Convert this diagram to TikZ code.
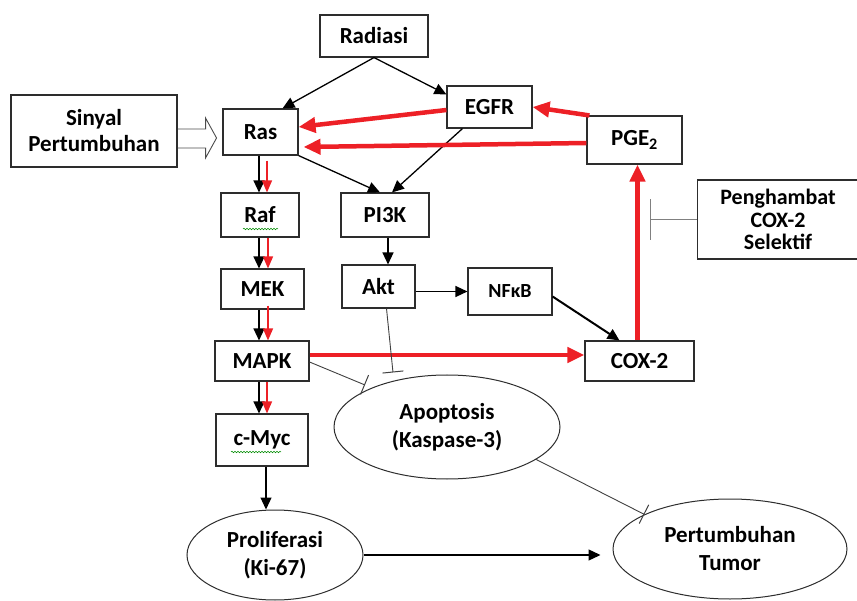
\documentclass[tikz,border=0pt]{standalone}
\usepackage{fontspec}
\setmainfont{Carlito}
\usetikzlibrary{arrows.meta,shapes.geometric,decorations.pathmorphing}
\definecolor{myred}{RGB}{237,32,38}
\definecolor{edge}{RGB}{45,45,45}
\begin{document}
\begin{tikzpicture}[x=1pt,y=-1pt,
  box/.style={draw=edge,line width=1.1pt,fill=white,inner sep=0pt,align=center,
    font=\bfseries\fontsize{23}{26}\selectfont},
  ell/.style={ellipse,draw=edge,line width=1pt,inner sep=0pt,align=center,
    font=\bfseries\fontsize{23}{28}\selectfont},
  blk/.style={-{Triangle[length=12pt,width=11pt]},line width=1.3pt,black},
  rthin/.style={-{Triangle[length=12pt,width=10pt]},line width=1.3pt,myred},
  rthick/.style={-{Triangle[length=17pt,width=15pt]},line width=4.5pt,myred},
  inh/.style={-{Bar[width=21pt,line width=1pt]},line width=0.9pt,black!75},
  squig/.style={draw=green!55!black,line width=0.5pt,
    decorate,decoration={snake,amplitude=0.8pt,segment length=3pt}}
]
\useasboundingbox (0,0) rectangle (857,601);

% nodes
\node[box,minimum width=108pt,minimum height=42pt] (rad) at (374,36) {Radiasi};
\node[box,minimum width=166pt,minimum height=72pt] (sin) at (94,131) {Sinyal\\Pertumbuhan};
\node[box,minimum width=75pt,minimum height=46pt] (ras) at (260.5,132) {Ras};
\node[box,minimum width=85pt,minimum height=42pt] (egfr) at (489.5,107) {EGFR};
\node[box,minimum width=95pt,minimum height=48pt] (pge) at (634.5,140) {PGE\textsubscript{2}};
\node[box,minimum width=78pt,minimum height=44pt] (raf) at (260,215) {Raf};
\node[box,minimum width=88pt,minimum height=44pt] (pik) at (385,215) {PI3K};
\node[box,minimum width=83pt,minimum height=40pt] (mek) at (262.5,289) {MEK};
\node[box,minimum width=73pt,minimum height=43pt] (akt) at (378.5,286.5) {Akt};
\node[box,minimum width=84pt,minimum height=47pt,font=\bfseries\fontsize{20}{23}\selectfont] (nfkb) at (510,291.5) {NFκB};
\node[box,minimum width=94pt,minimum height=40pt] (mapk) at (262,361) {MAPK};
\node[box,minimum width=109pt,minimum height=40pt] (cox) at (639.5,361) {COX-2};
\node[box,minimum width=161pt,minimum height=79pt,font=\bfseries\fontsize{22}{22.5}\selectfont] (peng) at (778,219.5) {Penghambat\\COX-2\\Selektif};
\node[box,minimum width=92pt,minimum height=52pt] (myc) at (262,440) {c-Myc};
\node[ell,minimum width=176pt,minimum height=90pt] (prol) at (275,555) {Proliferasi\\(Ki-67)};
\node[ell,minimum width=226pt,minimum height=104pt] (apo) at (447,427) {Apoptosis\\(Kaspase-3)};
\node[ell,minimum width=234pt,minimum height=100pt] (tum) at (730,549) {Pertumbuhan\\Tumor};

% spell-check squiggles
\draw[squig] ([xshift=-17pt,yshift=-14pt]raf.center) -- ([xshift=18pt,yshift=-14pt]raf.center);
\draw[squig] ([xshift=-31pt,yshift=-12pt]myc.center) -- ([xshift=19pt,yshift=-12pt]myc.center);

% hollow arrow Sinyal -> Ras
\draw[line width=0.9pt,black!70] ([yshift=2pt]sin.east) -- ++(28,0) -- ++(0,-11) -- ++(11,20)
  -- ++(-11,20) -- ++(0,-10) -- ++(-28,0);

% black arrows
\draw[blk] (rad.south) -- ([xshift=22pt]ras.north);
\draw[blk] (rad.south) -- ([yshift=-9pt]egfr.north west);
\draw[blk] ([xshift=-27pt]egfr.south) -- ([xshift=7pt]pik.north);
\draw[blk] (ras.south east) -- ([xshift=-5pt]pik.north);
\draw[blk] ([xshift=-1.5pt]ras.south) -- ([xshift=-1pt]raf.north);
\draw[blk] ([xshift=-1pt]raf.south) -- ([xshift=-3.5pt]mek.north);
\draw[blk] ([xshift=-3.5pt]mek.south) -- ([xshift=-3pt]mapk.north);
\draw[blk] ([xshift=-3pt]mapk.south) -- ([xshift=-3pt]myc.north);
\draw[blk] ([xshift=4pt]myc.south) -- ([xshift=4pt]myc.south |- prol.north);
\draw[blk] ([xshift=3pt]pik.south) -- ([xshift=9.5pt]akt.north);
\draw[blk] ([yshift=-5pt]akt.east) -- ([yshift=-5pt]akt.east -| nfkb.west);
\draw[blk,line width=2pt] ([yshift=-5pt]nfkb.east) -- ([xshift=-20pt]cox.north);
\draw[blk] (prol.east) -- ([xshift=-12pt]prol.east -| tum.west);

% thin red arrows
\draw[rthin] ([xshift=6.5pt,yshift=-5pt]ras.south) -- ([xshift=7pt]raf.north);
\draw[rthin] ([xshift=8pt]raf.south) -- ([xshift=5.5pt]mek.north);
\draw[rthin] ([xshift=5.5pt,yshift=4pt]mek.south) -- ([xshift=6pt]mapk.north);
\draw[rthin] ([xshift=5pt]mapk.south) -- ([xshift=5pt]myc.north);

% thick red arrows
\draw[rthick] ([yshift=-3pt]egfr.west) -- ([yshift=5pt]ras.east);
\draw[rthick] ([yshift=-3pt]pge.west) -- ([xshift=5pt,yshift=-15pt]ras.east);
\draw[rthick] ([xshift=3pt]pge.north west) -- (egfr.east);
\draw[rthick] ([yshift=6pt]mapk.east) -- ([yshift=6pt]cox.west);
\draw[rthick] ([xshift=-2pt]cox.north) -- ([xshift=3pt]pge.south);

% inhibitions
\coordinate (blockpt) at ([xshift=-47pt]peng.west);
\draw[-{Bar[width=41pt,line width=1.3pt]},line width=1.3pt,black!50] (peng.west) -- (blockpt);
\draw[inh] ([yshift=-1pt]mapk.east) -- ([xshift=-82pt,yshift=42pt]apo.center);
\draw[inh] ([xshift=8pt]akt.south) -- ([xshift=-54pt,yshift=2pt]apo.north);
\draw[inh] (apo.-20) -- (tum.158);
\end{tikzpicture}
\end{document}
